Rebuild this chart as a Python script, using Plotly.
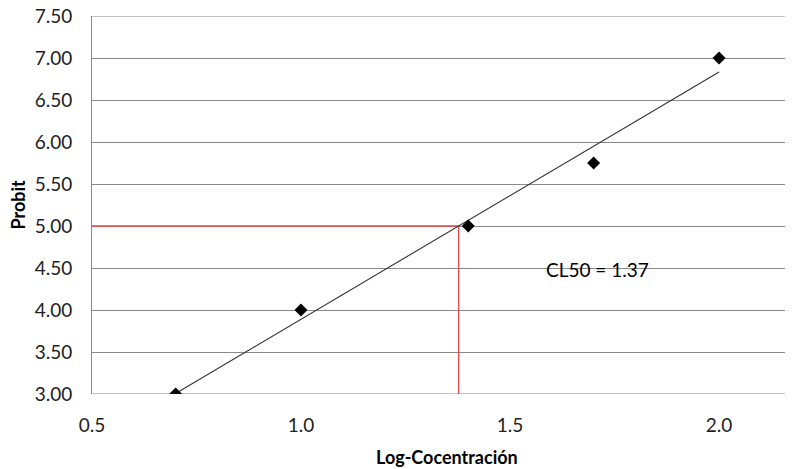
import numpy as np
import plotly.graph_objects as go

log_conc = [0.7, 1.0, 1.4, 1.7, 2.0]
probit = [3.0, 4.0, 5.0, 5.75, 7.0]
y_ticks = [3.0, 3.5, 4.0, 4.5, 5.0, 5.5, 6.0, 6.5, 7.0, 7.5]
x_ticks = [0.5, 1.0, 1.5, 2.0]
cl50_label = "CL50 = 1.37"

slope, intercept = np.polyfit(log_conc, probit, 1)
fit_x = [min(log_conc), max(log_conc)]
fit_y = [slope * v + intercept for v in fit_x]
cl50 = (5.0 - intercept) / slope

grid_color = "#8a8a8a"

fig = go.Figure()
# edge gridlines (plotly culls gridlines lying on the plot edges)
for yv in (y_ticks[0], y_ticks[-1]):
    fig.add_shape(type="line", xref="paper", yref="y", x0=0, x1=1, y0=yv, y1=yv,
                  line=dict(color=grid_color, width=1), layer="below")

fig.add_trace(go.Scatter(x=[0.5, cl50, cl50], y=[5.0, 5.0, 3.0], mode="lines",
                         line=dict(color="#e8474a", width=1.3), hoverinfo="skip"))
fig.add_trace(go.Scatter(x=fit_x, y=fit_y, mode="lines",
                         line=dict(color="#333333", width=1.1)))
fig.add_trace(go.Scatter(x=log_conc, y=probit, mode="markers",
                         marker=dict(symbol="diamond", color="black", size=10)))

fig.add_annotation(x=1.71, y=4.48, text=cl50_label, showarrow=False,
                   font=dict(family="Lato, Open Sans, sans-serif", size=19, color="black"))
fig.add_annotation(xref="paper", yref="paper", x=0.501, y=-0.167,
                   text="<b>Log-Cocentración</b>", showarrow=False, yanchor="middle",
                   xanchor="center",
                   font=dict(family="Lato, Open Sans, sans-serif", size=18, color="black"))
fig.add_annotation(xref="paper", yref="paper", x=-0.105, y=0.5,
                   text="<b>Probit</b>", showarrow=False, textangle=-90,
                   xanchor="center", yanchor="middle",
                   font=dict(family="Lato, Open Sans, sans-serif", size=18, color="black"))

fig.update_layout(
    width=793, height=469,
    margin=dict(l=84, r=0, t=8, b=83),
    paper_bgcolor="white", plot_bgcolor="white",
    showlegend=False,
    font=dict(family="Lato, Open Sans, sans-serif", color="#222222"),
    xaxis=dict(range=[0.5, 2.196], tickvals=x_ticks, ticktext=[f"{v:.1f}" for v in x_ticks],
               showgrid=False, zeroline=False, showline=False, automargin=False,
               ticks="", ticklabelstandoff=18, tickfont=dict(size=19),
               ticklabeloverflow="allow"),
    yaxis=dict(range=[3.0, 7.5], tickvals=y_ticks, ticktext=[f"{v:.2f}" for v in y_ticks],
               showgrid=True, gridcolor=grid_color, gridwidth=1, zeroline=False,
               showline=True, linecolor=grid_color, linewidth=1, automargin=False,
               ticks="", ticklabelstandoff=15, tickfont=dict(size=19),
               ticklabeloverflow="allow"),
)

fig.write_html("out.html")
